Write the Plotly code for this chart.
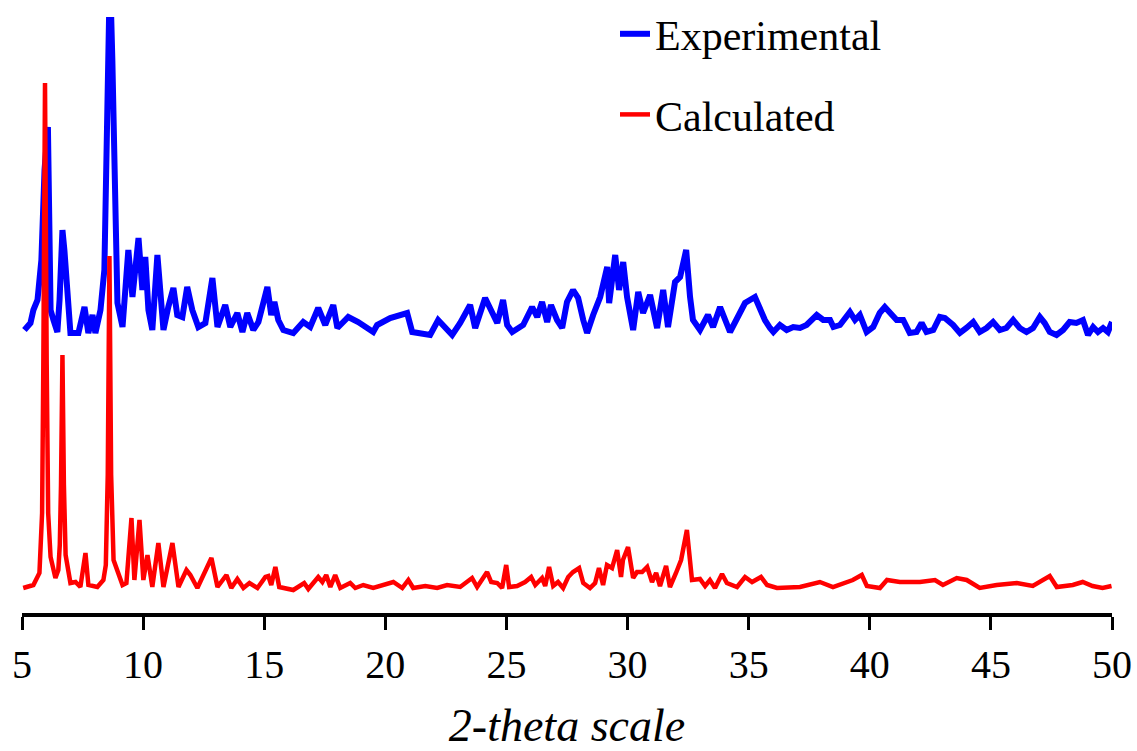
import plotly.graph_objects as go

# ---- Data (2-theta in degrees, intensity in arbitrary units) ----
exp_theta = [5.10, 5.35, 5.47, 5.64, 5.80, 5.93, 6.07, 6.13, 6.18, 6.30, 6.46, 6.55, 6.67, 6.75,
             6.88, 7.00, 7.33, 7.58, 7.74, 7.91, 8.03, 8.24, 8.40, 8.53, 8.63, 8.73, 8.86, 8.94,
             9.15, 9.39, 9.56, 9.81, 9.97, 10.09, 10.22, 10.38, 10.59, 10.71, 10.84, 11.04, 11.25,
             11.41, 11.62, 11.82, 12.03, 12.28, 12.57, 12.86, 13.07, 13.39, 13.60, 13.89, 14.10,
             14.30, 14.55, 14.76, 14.96, 15.13, 15.29, 15.42, 15.58, 15.79, 16.20, 16.61, 16.90,
             17.23, 17.52, 17.85, 18.02, 18.47, 18.88, 19.25, 19.50, 19.66, 20.20, 20.90, 21.11,
             21.85, 22.18, 22.76, 23.09, 23.50, 23.71, 24.12, 24.41, 24.62, 24.86, 25.03, 25.24,
             25.69, 26.06, 26.27, 26.47, 26.68, 26.84, 27.09, 27.30, 27.50, 27.75, 27.96, 28.17,
             28.33, 28.58, 28.87, 29.16, 29.24, 29.49, 29.65, 29.82, 29.98, 30.23, 30.44, 30.64,
             30.93, 31.22, 31.47, 31.67, 31.96, 32.17, 32.42, 32.58, 32.70, 32.99, 33.32, 33.53,
             33.82, 34.23, 34.56, 34.85, 35.26, 35.47, 35.67, 35.88, 36.02, 36.29, 36.57, 36.84,
             37.12, 37.39, 37.81, 38.08, 38.36, 38.50, 38.77, 39.18, 39.39, 39.59, 39.87, 40.14,
             40.41, 40.62, 40.83, 41.11, 41.38, 41.65, 41.93, 42.14, 42.34, 42.62, 42.89, 43.10,
             43.44, 43.72, 43.99, 44.27, 44.54, 44.82, 45.09, 45.37, 45.64, 45.92, 46.19, 46.47,
             46.74, 47.02, 47.22, 47.43, 47.71, 47.98, 48.25, 48.53, 48.80, 49.01, 49.22, 49.42,
             49.63, 49.83, 50.00]
exp_int = [285, 292, 305, 315, 355, 445, 488, 365, 305, 295, 283, 315, 385, 365,
           315, 282, 282, 308, 282, 300, 282, 305, 345, 555, 645, 555, 355, 312,
           288, 365, 318, 377, 325, 358, 305, 285, 360, 325, 285, 308, 327,
           300, 298, 328, 305, 288, 292, 337, 288, 310, 288, 302, 283,
           302, 285, 293, 312, 328, 300, 313, 295, 285, 282, 293, 288,
           307, 290, 310, 287, 298, 293, 288, 283, 290, 297, 302, 283,
           280, 295, 280, 292, 310, 287, 317, 303, 292, 315, 290, 283,
           290, 308, 298, 313, 293, 310, 295, 287, 313, 325, 317, 295,
           282, 300, 318, 348, 312, 360, 325, 353, 318, 285, 323, 302,
           320, 287, 325, 288, 333, 338, 365, 318, 295, 285, 300, 288,
           308, 283, 300, 312, 318, 305, 295, 287, 283, 290, 285, 288,
           287, 290, 300, 295, 295, 288, 290, 303, 295, 300, 283, 288,
           302, 308, 303, 295, 295, 282, 283, 292, 283, 285, 298, 297,
           290, 282, 287, 293, 283, 287, 293, 285, 287, 295, 287, 283,
           287, 298, 292, 283, 280, 285, 293, 292, 295, 280, 288, 283,
           287, 283, 293]

calc_theta = [5.05, 5.47, 5.72, 5.83, 5.88, 5.95, 6.02, 6.08, 6.18, 6.38, 6.50, 6.56, 6.61,
              6.67, 6.73, 6.80, 7.00, 7.21, 7.41, 7.62, 7.74, 8.11, 8.36, 8.46, 8.54, 8.61,
              8.68, 8.78, 9.15, 9.31, 9.52, 9.64, 9.85, 10.01, 10.18, 10.38, 10.63, 10.84,
              11.21, 11.46, 11.79, 11.95, 12.24, 12.82, 13.07, 13.44, 13.64, 13.89, 14.14,
              14.39, 14.72, 15.05, 15.17, 15.29, 15.46, 15.62, 16.20, 16.65, 16.82, 17.23,
              17.40, 17.56, 17.73, 17.93, 18.14, 18.55, 18.76, 19.09, 19.50, 20.00, 20.33,
              20.70, 20.95, 21.15, 21.65, 22.14, 22.55, 23.09, 23.58, 23.79, 24.00, 24.20,
              24.37, 24.62, 24.82, 24.99, 25.11, 25.44, 25.77, 26.02, 26.19, 26.47, 26.60,
              26.76, 26.93, 27.13, 27.34, 27.55, 27.75, 28.00, 28.17, 28.45, 28.66, 28.82,
              28.99, 29.15, 29.36, 29.57, 29.73, 29.81, 30.02, 30.23, 30.39, 30.60, 30.81,
              31.01, 31.18, 31.34, 31.59, 31.75, 32.00, 32.21, 32.45, 32.66, 32.99, 33.20,
              33.40, 33.61, 33.90, 34.10, 34.52, 34.85, 35.14, 35.51, 35.76, 36.17, 37.12,
              37.94, 38.48, 39.30, 39.67, 39.88, 40.42, 40.71, 41.24, 42.07, 42.69, 43.02,
              43.59, 44.00, 44.54, 45.24, 46.07, 46.73, 47.43, 47.72, 48.38, 48.79, 49.20,
              49.61, 49.98]
calc_int = [27, 30, 42, 102, 250, 532, 250, 102, 58, 37, 45, 70, 130,
            260, 130, 60, 32, 33, 28, 62, 30, 28, 35, 50, 140, 359,
            140, 55, 30, 32, 97, 35, 95, 35, 60, 28, 72, 28,
            72, 28, 45, 40, 27, 57, 28, 40, 27, 36, 27,
            32, 27, 38, 39, 30, 48, 28, 25, 32, 26, 38,
            33, 40, 28, 40, 27, 32, 27, 30, 27, 30, 33,
            27, 35, 27, 29, 27, 30, 28, 37, 28, 35, 43,
            33, 32, 27, 50, 28, 29, 33, 38, 30, 37, 29,
            48, 29, 33, 27, 38, 43, 47, 32, 27, 32, 47,
            30, 50, 47, 65, 38, 55, 68, 37, 43, 43, 48,
            33, 42, 29, 49, 28, 42, 55, 85, 35, 36, 29,
            35, 27, 41, 32, 28, 38, 33, 38, 30, 27, 28,
            33, 28, 35, 40, 29, 27, 35, 33, 33, 35, 30,
            37, 35, 27, 30, 32, 29, 39, 28, 30, 33, 29,
            27, 29]

x_ticks = [5, 10, 15, 20, 25, 30, 35, 40, 45, 50]

FONT = "Liberation Serif, Times New Roman, serif"

fig = go.Figure()
fig.add_trace(go.Scatter(x=exp_theta, y=exp_int, mode="lines", name="Experimental",
                         line=dict(color="#0000FF", width=6), legendgroup="a"))
fig.add_trace(go.Scatter(x=calc_theta, y=calc_int, mode="lines", name="Calculated",
                         line=dict(color="#FF0000", width=4.5), legendgroup="b"))

fig.update_layout(
    width=1137, height=751,
    margin=dict(l=22, r=25, t=17, b=138, autoexpand=False),
    paper_bgcolor="white", plot_bgcolor="white",
    font=dict(family=FONT, color="black", size=40),
    showlegend=True,
    legend=dict(x=615 / 1137, xref="container", y=1 + 3 / 751, yref="container",
                xanchor="left", yanchor="top", bgcolor="rgba(0,0,0,0)",
                font=dict(family=FONT, size=42, color="black"),
                tracegroupgap=23, itemwidth=30),
    xaxis=dict(range=[5, 50], tickvals=x_ticks, ticktext=[str(v) for v in x_ticks],
               showline=True, linecolor="black", linewidth=4,
               ticks="outside", ticklen=13, tickwidth=3, tickcolor="black",
               showgrid=False, zeroline=False, ticklabelstandoff=0,
               tickfont=dict(family=FONT, size=40, color="black"),
               title=dict(text="<i>2-theta scale</i>", standoff=32,
                          font=dict(family=FONT, size=46, color="black"))),
    yaxis=dict(range=[2, 598], visible=False, showgrid=False, zeroline=False),
)

fig.write_html("out.html")
